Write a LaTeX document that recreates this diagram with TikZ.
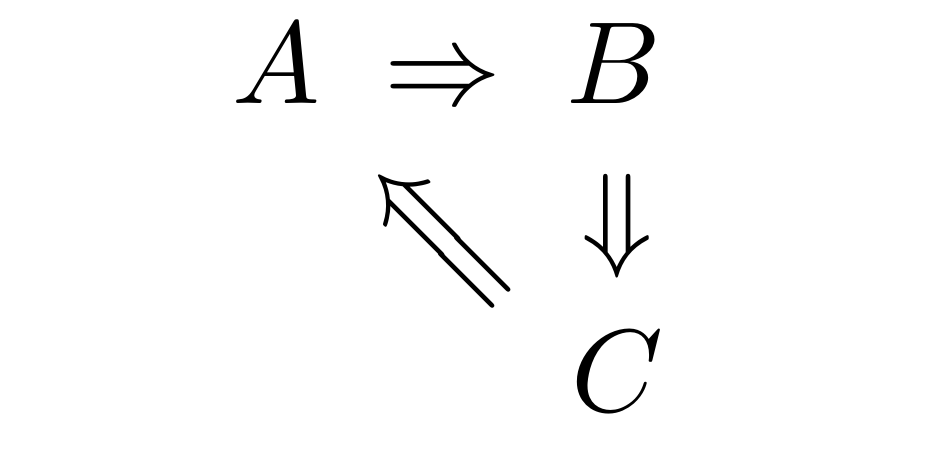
\documentclass[tikz,border=0pt]{standalone}
\usepackage{amsmath}
\begin{document}
\begin{tikzpicture}[x=0.08547pt,y=-0.08547pt,
  obj/.style={inner sep=0pt,outer sep=0pt,anchor=base},
  arr/.style={inner sep=0pt,outer sep=0pt}]
\useasboundingbox (0,0) rectangle (951,448);
\node[obj] (A) at (276,103) {$A$};
\node[obj] (B) at (614,103) {$B$};
\node[obj] (C) at (617,411) {$C$};
\node[obj] (AB) at (443,104) {$\Rightarrow$};
\node[arr] (BC) at (617,226) {$\Downarrow$};
\node[arr,rotate=135] (CA) at (446,232) {$\Longrightarrow$};
\end{tikzpicture}
\end{document}
